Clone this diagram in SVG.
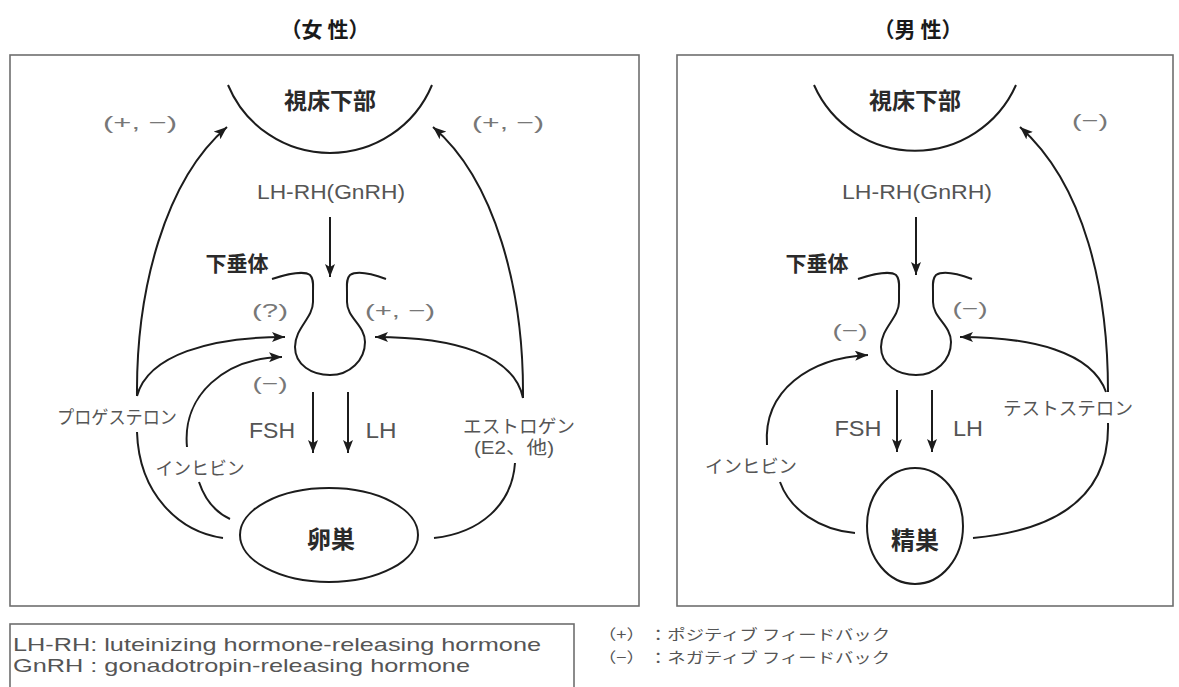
<svg xmlns="http://www.w3.org/2000/svg" width="1179" height="687" viewBox="0 0 1179 687">
<style>
.bg{fill:#ffffff}
.box{fill:none;stroke:#6e6e6e;stroke-width:1.6}
.ln{fill:none;stroke:#1c1c1c;stroke-width:2}
.arr{marker-end:url(#ah)}
.lbl{font-family:"Liberation Sans","Noto Sans CJK JP",sans-serif;fill:#555;dominant-baseline:central;text-anchor:middle}
.fb{font-family:"Liberation Sans","Noto Sans CJK JP",sans-serif;fill:#777;font-size:19px;dominant-baseline:central;text-anchor:middle}
.jp{font-family:"Noto Sans CJK JP",sans-serif;fill:#555;font-size:18px;dominant-baseline:central;text-anchor:middle}
.nd{font-family:"Noto Sans CJK JP",sans-serif;fill:#2a2a2a;font-weight:bold;dominant-baseline:central;text-anchor:middle}
.ttl{font-family:"Noto Sans CJK JP",sans-serif;fill:#1a1a1a;font-weight:bold;font-size:21px;dominant-baseline:central;text-anchor:middle}
.leg{font-family:"Liberation Sans","Noto Sans CJK JP",sans-serif;fill:#555;font-size:19px;dominant-baseline:central}
.legj{font-family:"Noto Sans CJK JP",sans-serif;fill:#555;font-size:14.5px;dominant-baseline:central}
</style>
<defs>
<marker id="ah" markerUnits="userSpaceOnUse" markerWidth="14" markerHeight="10" refX="13" refY="5" orient="auto">
<path d="M0,0 L13,5 L0,10 L3,5 z" fill="#1c1c1c"/>
</marker>
<path id="pit" d="M 272,279 C 290,273 305,271 310,275 C 314,279 313,285 313,292 L 313,302 C 313,318 295,328 295,347 C 295,365 312,375 330,375 C 350,375 365,360 365,342 C 365,325 347,318 347,302 L 347,292 C 347,285 346,279 350,275 C 356,271 370,273 386,279"/>
</defs>
<rect class="bg" x="0" y="0" width="1179" height="687"/>

<g id="female-panel">
<text class="ttl" x="325" y="28">（女 性）</text>
<rect class="box" x="10" y="55" width="629" height="551"/>
</g>
<g id="male-panel">
<text class="ttl" x="918" y="28">（男 性）</text>
<rect class="box" x="677" y="55" width="496" height="551"/>
</g>

<g id="f-hypothalamus">
<path class="ln" d="M 228,85 A 110.5 110.5 0 0 0 432,85"/>
<text class="nd" x="330" y="99" font-size="23">視床下部</text>
</g>
<g id="f-pituitary">
<use href="#pit" class="ln"/>
<text class="nd" x="237" y="262" font-size="21">下垂体</text>
</g>
<g id="f-ovary">
<ellipse class="ln" cx="329" cy="535" rx="89" ry="47"/>
<text class="nd" x="331" y="537" font-size="24">卵巣</text>
</g>

<g id="m-hypothalamus">
<path class="ln" d="M 814,85 A 110.5 110.5 0 0 0 1016,85"/>
<text class="nd" x="915" y="99" font-size="23">視床下部</text>
</g>
<g id="m-pituitary">
<use href="#pit" class="ln" transform="translate(586,0)"/>
<text class="nd" x="817" y="262" font-size="21">下垂体</text>
</g>
<g id="m-testis">
<ellipse class="ln" cx="915" cy="526" rx="48" ry="58"/>
<text class="nd" x="915" y="538" font-size="24">精巣</text>
</g>

<g id="connectors">
<path class="ln arr" d="M 330,217 L 330,277"/>
<path class="ln arr" d="M 313,392 L 313,453"/>
<path class="ln arr" d="M 348,392 L 348,453"/>
<path class="ln arr" d="M 137,396 C 136,290 165,180 227,127"/>
<path class="ln arr" d="M 137,396 C 148,355 210,337 285,337"/>
<path class="ln" d="M 137,432 C 139,495 180,532 223,538"/>
<path class="ln arr" d="M 187,447 C 182,395 225,358 282,357"/>
<path class="ln" d="M 199,482 C 205,500 215,512 230,519"/>
<path class="ln arr" d="M 523,398 C 524,290 495,180 433,127"/>
<path class="ln arr" d="M 523,398 C 514,355 455,337 375,337"/>
<path class="ln" d="M 515,463 C 512,505 480,533 434,538"/>
<path class="ln arr" d="M 916,217 L 916,275"/>
<path class="ln arr" d="M 897,390 L 897,452"/>
<path class="ln arr" d="M 932,390 L 932,452"/>
<path class="ln arr" d="M 1108,392 C 1108,290 1085,185 1020,127"/>
<path class="ln arr" d="M 1106,392 C 1092,352 1032,337 960,337"/>
<path class="ln" d="M 1108,423 C 1110,495 1060,530 973,538"/>
<path class="ln arr" d="M 767,445 C 763,390 810,358 868,355"/>
<path class="ln" d="M 780,482 C 790,510 820,530 855,533"/>
</g>

<g id="f-labels">
<text class="fb" x="140" y="122" textLength="74" lengthAdjust="spacingAndGlyphs">(+, −)</text>
<text class="fb" x="508" y="122" textLength="72" lengthAdjust="spacingAndGlyphs">(+, −)</text>
<text class="lbl" x="331" y="192" font-size="20" textLength="148" lengthAdjust="spacingAndGlyphs">LH-RH(GnRH)</text>
<text class="fb" x="270" y="310" textLength="36" lengthAdjust="spacingAndGlyphs">(?)</text>
<text class="fb" x="400" y="310" textLength="70" lengthAdjust="spacingAndGlyphs">(+, −)</text>
<text class="fb" x="270" y="383" textLength="35" lengthAdjust="spacingAndGlyphs">(−)</text>
<text class="lbl" x="272" y="430" font-size="22" textLength="46" lengthAdjust="spacingAndGlyphs">FSH</text>
<text class="lbl" x="381" y="430" font-size="22" textLength="31" lengthAdjust="spacingAndGlyphs">LH</text>
<text class="jp" x="117" y="416" textLength="120" lengthAdjust="spacingAndGlyphs">プロゲステロン</text>
<text class="jp" x="200" y="467" textLength="89" lengthAdjust="spacingAndGlyphs">インヒビン</text>
<text class="jp" x="519" y="425" textLength="112" lengthAdjust="spacingAndGlyphs">エストロゲン</text>
<text class="lbl" x="514" y="448" font-size="18" textLength="80" lengthAdjust="spacingAndGlyphs">(E2、他)</text>
</g>

<g id="m-labels">
<text class="fb" x="1090" y="120" textLength="36" lengthAdjust="spacingAndGlyphs">(−)</text>
<text class="lbl" x="917" y="192" font-size="20" textLength="150" lengthAdjust="spacingAndGlyphs">LH-RH(GnRH)</text>
<text class="fb" x="850" y="330" textLength="35" lengthAdjust="spacingAndGlyphs">(−)</text>
<text class="fb" x="970" y="308" textLength="35" lengthAdjust="spacingAndGlyphs">(−)</text>
<text class="lbl" x="858" y="428" font-size="22" textLength="47" lengthAdjust="spacingAndGlyphs">FSH</text>
<text class="lbl" x="968" y="428" font-size="22" textLength="30" lengthAdjust="spacingAndGlyphs">LH</text>
<text class="jp" x="751" y="465" textLength="92" lengthAdjust="spacingAndGlyphs">インヒビン</text>
<text class="jp" x="1068" y="407" textLength="130" lengthAdjust="spacingAndGlyphs">テストステロン</text>
</g>

<g id="legend">
<rect class="box" x="10" y="624" width="564" height="80"/>
<text class="leg" x="13" y="644" textLength="528" lengthAdjust="spacingAndGlyphs">LH-RH: luteinizing hormone-releasing hormone</text>
<text class="leg" x="13" y="665" textLength="457" lengthAdjust="spacingAndGlyphs">GnRH  : gonadotropin-releasing hormone</text>
<text class="legj" x="598" y="633" textLength="292" lengthAdjust="spacingAndGlyphs">（+） ：ポジティブ フィードバック</text>
<text class="legj" x="598" y="656" textLength="292" lengthAdjust="spacingAndGlyphs">（−） ：ネガティブ フィードバック</text>
</g>
</svg>
